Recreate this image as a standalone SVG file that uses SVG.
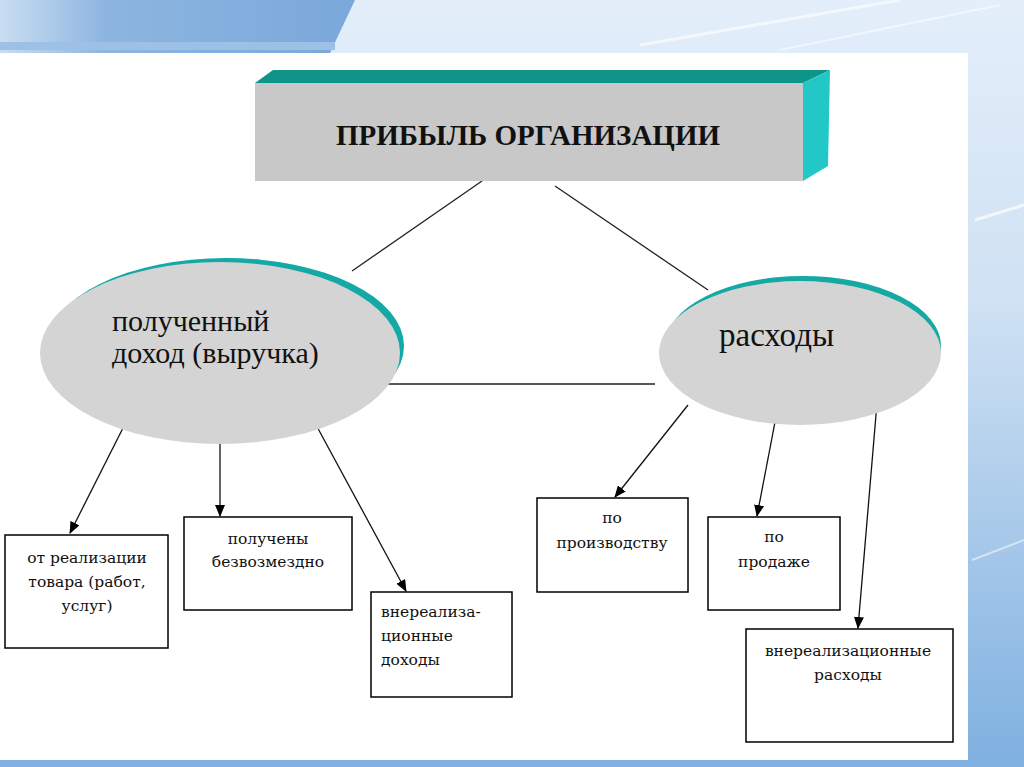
<svg xmlns="http://www.w3.org/2000/svg" width="1024" height="767" viewBox="0 0 1024 767">
<defs>
<linearGradient id="bg" x1="0" y1="0" x2="0" y2="1">
<stop offset="0" stop-color="#e3eefa"/>
<stop offset="0.4" stop-color="#cfe1f3"/>
<stop offset="1" stop-color="#7fb0e0"/>
</linearGradient>
<linearGradient id="tl" x1="0" y1="0" x2="1" y2="0">
<stop offset="0" stop-color="#c9ddf2"/>
<stop offset="0.3" stop-color="#8db5e0"/>
<stop offset="1" stop-color="#7aa8da"/>
</linearGradient>
<marker id="ah" viewBox="0 0 12 10" refX="11" refY="5" markerWidth="12" markerHeight="10" markerUnits="userSpaceOnUse" orient="auto">
<path d="M0,0 L12,5 L0,10 z" fill="#000"/>
</marker>
<style>
.box{fill:#fff;stroke:#000;stroke-width:1.5}
.bt{font-family:"DejaVu Serif",serif;font-size:15.5px;fill:#111;text-anchor:middle}
.bl{font-family:"DejaVu Serif",serif;font-size:15.5px;fill:#111;text-anchor:start}
.et{font-family:"Liberation Serif",serif;fill:#111}
.ln{stroke:#222;stroke-width:1.3;fill:none}
.ar{stroke:#111;stroke-width:1.3;fill:none;marker-end:url(#ah)}
</style>
</defs>
<rect width="1024" height="767" fill="url(#bg)"/>
<polygon points="0,0 355,0 330,53 0,53" fill="url(#tl)"/>
<rect x="0" y="42" width="335" height="8" fill="#9cc0e6"/>
<line x1="640" y1="45" x2="900" y2="0" stroke="#fff" stroke-opacity="0.6" stroke-width="3"/>
<line x1="780" y1="50" x2="1000" y2="5" stroke="#fff" stroke-opacity="0.5" stroke-width="2"/>
<line x1="975" y1="220" x2="1024" y2="205" stroke="#fff" stroke-opacity="0.7" stroke-width="3"/>
<line x1="972" y1="560" x2="1024" y2="540" stroke="#fff" stroke-opacity="0.5" stroke-width="2"/>
<rect x="0" y="53" width="968" height="707" fill="#fff"/>

<g id="connectors">
<line class="ln" x1="482" y1="181" x2="352" y2="271"/>
<line class="ln" x1="555" y1="186" x2="708" y2="290"/>
<line class="ln" x1="388" y1="384" x2="655" y2="384"/>
<line class="ar" x1="125" y1="424" x2="70" y2="533"/>
<line class="ar" x1="220" y1="442" x2="220" y2="516"/>
<line class="ar" x1="315" y1="423" x2="406" y2="591"/>
<line class="ar" x1="688" y1="405" x2="615" y2="497"/>
<line class="ar" x1="775" y1="422" x2="757" y2="516"/>
<line class="ar" x1="877" y1="403" x2="858" y2="628"/>
</g>

<g id="title">
<polygon points="255,83 273,70 830,70 803,83" fill="#0e9488"/>
<polygon points="803,83 830,70 828,166 803,181" fill="#22c8c8"/>
<rect x="255" y="83" width="548" height="98" fill="#c8c8c8"/>
<text x="528" y="145" font-family="Liberation Serif,serif" font-size="29" font-weight="bold" fill="#111" text-anchor="middle">ПРИБЫЛЬ ОРГАНИЗАЦИИ</text>
</g>

<g id="income">
<ellipse cx="226" cy="346" rx="178" ry="88" fill="#15a9a5"/>
<ellipse cx="220" cy="353" rx="180" ry="91" fill="#d4d4d4"/>
<text class="et" x="112" y="331" font-size="30">полученный</text>
<text class="et" x="112" y="363" font-size="30">доход (выручка)</text>
</g>

<g id="expenses">
<ellipse cx="803" cy="346" rx="138" ry="70" fill="#15a9a5"/>
<ellipse cx="800" cy="353" rx="141" ry="72" fill="#d4d4d4"/>
<text class="et" x="719" y="346" font-size="33">расходы</text>
</g>

<g id="b1">
<rect class="box" x="5" y="535" width="163" height="113"/>
<text class="bt" x="87" y="563">от реализации</text>
<text class="bt" x="87" y="587">товара (работ,</text>
<text class="bt" x="87" y="611">услуг)</text>
</g>
<g id="b2">
<rect class="box" x="184" y="517" width="168" height="93"/>
<text class="bt" x="268" y="544">получены</text>
<text class="bt" x="268" y="567">безвозмездно</text>
</g>
<g id="b3">
<rect class="box" x="371" y="592" width="141" height="105"/>
<text class="bl" x="381" y="617">внереализа-</text>
<text class="bl" x="381" y="641">ционные</text>
<text class="bl" x="381" y="665">доходы</text>
</g>
<g id="b4">
<rect class="box" x="537" y="498" width="151" height="94"/>
<text class="bt" x="612" y="523">по</text>
<text class="bt" x="612" y="548">производству</text>
</g>
<g id="b5">
<rect class="box" x="708" y="517" width="132" height="93"/>
<text class="bt" x="774" y="542">по</text>
<text class="bt" x="774" y="567">продаже</text>
</g>
<g id="b6">
<rect class="box" x="746" y="629" width="207" height="113"/>
<text class="bt" x="848" y="656">внереализационные</text>
<text class="bt" x="848" y="680">расходы</text>
</g>
</svg>
